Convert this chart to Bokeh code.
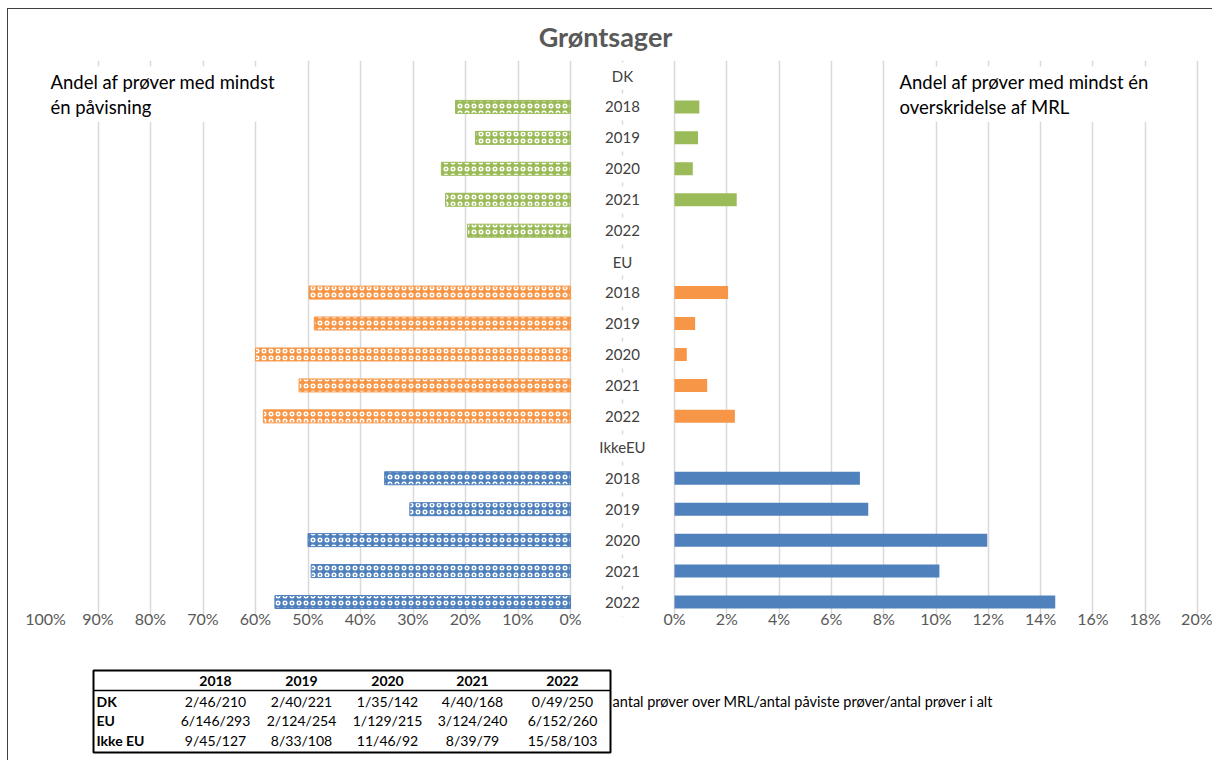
from bokeh.plotting import figure
from bokeh.layouts import column, row
from bokeh.models import (Range1d, FactorRange, FixedTicker, PrintfTickFormatter,
                          ColumnDataSource, Label, Span)
from bokeh.core.properties import value
from bokeh.embed import file_html
from bokeh.resources import INLINE

# ---------------- data ----------------
title_text = "Grøntsager"
left_note = "Andel af prøver med mindst\nén påvisning"
right_note = "Andel af prøver med mindst én\noverskridelse af MRL"

groups = ["DK", "EU", "IkkeEU"]
years = ["2018", "2019", "2020", "2021", "2022"]

# share of samples with at least one detection (%)
detect_dk = [21.9, 18.1, 24.6, 23.8, 19.6]
detect_eu = [49.8, 48.8, 60.0, 51.7, 58.5]
detect_ikke = [35.4, 30.6, 50.0, 49.4, 56.3]

# share of samples with at least one MRL exceedance (%)
mrl_dk = [0.95, 0.90, 0.70, 2.38, 0.0]
mrl_eu = [2.05, 0.79, 0.47, 1.25, 2.31]
mrl_ikke = [7.09, 7.41, 11.96, 10.13, 14.56]

group_colors = ["#9BBB59", "#F79646", "#4F81BD"]

left_ticks = [0, 10, 20, 30, 40, 50, 60, 70, 80, 90, 100]
right_ticks = [0, 2, 4, 6, 8, 10, 12, 14, 16, 18, 20]

table_header = ["2018", "2019", "2020", "2021", "2022"]
table_rows = ["DK", "EU", "Ikke EU"]
table_dk = ["2/46/210", "2/40/221", "1/35/142", "4/40/168", "0/49/250"]
table_eu = ["6/146/293", "2/124/254", "1/129/215", "3/124/240", "6/152/260"]
table_ikke = ["9/45/127", "8/33/108", "11/46/92", "8/39/79", "15/58/103"]
table_note = "antal prøver over MRL/antal påviste prøver/antal prøver i alt"

# ---------------- styling / geometry ----------------
FONT = "Lato"
GRID = "#d9d9d9"
OX, OY = 8, 9            # content origin on the page (after margin + border)
W_TOTAL, H_TOTAL = 1204, 751
TOP_H = 51
MID_H = 579
BOT_H = H_TOTAL - TOP_H - MID_H
SPLIT = 597              # page x where left and right panels meet
FRAME_BOTTOM_PAD = 22

L_FRAME_X0 = 45
L_ZERO, L_PX = 570, 5.25       # 0% position, px per %
R_ZERO, R_PX = 674, 26.15
R_FRAME_X1 = 1201
LABEL_CX = 622

# ---------------- rows ----------------
row_ids, row_labels = [], []
for g in groups:
    row_ids.append(g)
    row_labels.append(g)
    for y in years:
        row_ids.append(g + " " + y)
        row_labels.append(y)
n_rows = len(row_ids)

bar_rows, bar_detect, bar_mrl, bar_color = [], [], [], []
for g, det, mrl, c in zip(groups, [detect_dk, detect_eu, detect_ikke],
                          [mrl_dk, mrl_eu, mrl_ikke], group_colors):
    for y, d, m in zip(years, det, mrl):
        bar_rows.append(g + " " + y)
        bar_detect.append(d)
        bar_mrl.append(m)
        bar_color.append(c)

src = ColumnDataSource(dict(row=bar_rows, detect=bar_detect, mrl=bar_mrl, color=bar_color))
lab_src = ColumnDataSource(dict(row=row_ids, label=row_labels,
                                x=[(LABEL_CX - R_ZERO) / R_PX] * n_rows))

frame_h = MID_H - FRAME_BOTTOM_PAD
frame_top_page = OY + TOP_H


def synth_y(page_y):
    return n_rows - (page_y - frame_top_page) / frame_h * n_rows


def style_xaxis(p, ticks):
    p.xaxis.ticker = FixedTicker(ticks=ticks)
    p.xaxis.formatter = PrintfTickFormatter(format="%d%%")
    p.xaxis.axis_line_color = None
    p.xaxis.major_tick_line_color = None
    p.xaxis.minor_tick_line_color = None
    p.xaxis.major_tick_out = 0
    p.xaxis.major_tick_in = 0
    p.xaxis.minor_tick_out = 0
    p.xaxis.major_label_text_font = FONT
    p.xaxis.major_label_text_font_size = "16px"
    p.xaxis.major_label_text_color = "#595959"
    p.xaxis.major_label_standoff = -9
    p.xgrid.ticker = FixedTicker(ticks=ticks)
    p.xgrid.grid_line_color = GRID
    p.xgrid.grid_line_width = 1.5
    p.ygrid.visible = False


# ---------------- left panel ----------------
l_w = SPLIT - OX
l_range = Range1d((L_ZERO - L_FRAME_X0) / L_PX, -(SPLIT - L_ZERO) / L_PX)
left = figure(width=l_w, height=MID_H, x_range=l_range,
              y_range=FactorRange(factors=row_ids[::-1]),
              output_backend="svg", toolbar_location=None, y_axis_location=None,
              min_border_left=L_FRAME_X0 - OX, min_border_right=0, min_border_top=0,
              min_border_bottom=FRAME_BOTTOM_PAD, outline_line_color=None)
style_xaxis(left, left_ticks)
left.hbar(y="row", left="detect", right=0, height=0.42, source=src,
          fill_color="color", line_color="color", line_width=1,
          hatch_pattern="ring", hatch_color="white", hatch_scale=7, hatch_weight=1.5)
left.add_layout(Label(x=(L_ZERO - 46) / L_PX, y=synth_y(66), text=left_note,
                      text_align="left", text_baseline="top", text_font=FONT,
                      text_font_size="18.5px", text_color="#000000", text_line_height=1.15,
                      background_fill_color="white", padding=4))

# ---------------- right panel ----------------
r_w = OX + W_TOTAL - SPLIT
right = figure(width=r_w, height=MID_H,
               x_range=Range1d((SPLIT - R_ZERO) / R_PX, (R_FRAME_X1 - R_ZERO) / R_PX),
               y_range=left.y_range,
               output_backend="svg", toolbar_location=None, y_axis_location=None,
               min_border_left=0, min_border_right=OX + W_TOTAL - R_FRAME_X1,
               min_border_top=0, min_border_bottom=FRAME_BOTTOM_PAD,
               outline_line_color=None)
style_xaxis(right, right_ticks)
right.add_layout(Span(location=(LABEL_CX - R_ZERO) / R_PX, dimension="height",
                      line_color=GRID, line_width=1.5, line_dash="4 27", line_dash_offset=2))
right.hbar(y="row", left=0, right="mrl", height=0.42, source=src,
           fill_color="color", line_color=None)
right.text(x="x", y="row", text="label", source=lab_src, text_align="center",
           text_baseline="middle", text_font=value(FONT), text_font_size="15px",
           text_color="#404040")
right.add_layout(Label(x=(895 - R_ZERO) / R_PX, y=synth_y(66), text=right_note,
                       text_align="left", text_baseline="top", text_font=FONT,
                       text_font_size="18.5px", text_color="#000000", text_line_height=1.15,
                       background_fill_color="white", padding=4))

# ---------------- title strip ----------------
top = figure(width=W_TOTAL, height=TOP_H, x_range=Range1d(OX, OX + W_TOTAL),
             y_range=Range1d(OY + TOP_H, OY), output_backend="svg", toolbar_location=None,
             x_axis_location=None, y_axis_location=None, min_border=0,
             outline_line_color=None)
top.grid.visible = False
top.add_layout(Label(x=605, y=36, text=title_text, text_align="center",
                     text_baseline="middle", text_font=FONT, text_font_size="27px",
                     text_font_style="bold", text_color="#595959"))

# ---------------- table strip ----------------
b_top = OY + TOP_H + MID_H
bottom = figure(width=W_TOTAL, height=BOT_H, x_range=Range1d(OX, OX + W_TOTAL),
                y_range=Range1d(OY + H_TOTAL, b_top), output_backend="svg",
                toolbar_location=None, x_axis_location=None, y_axis_location=None,
                min_border=0, outline_line_color=None)
bottom.grid.visible = False

tbl_x0, tbl_x1, tbl_y0, tbl_y1 = 93, 610, 670, 752
col_cx = [215, 301, 387, 472, 562]
header_y = 680
row_y = [701, 720, 740]
bottom.quad(left=[tbl_x0], right=[tbl_x1], top=[tbl_y0], bottom=[tbl_y1],
            fill_color=None, line_color="#000000", line_width=2)
bottom.segment(x0=[tbl_x0], x1=[tbl_x1], y0=[690], y1=[690], line_color="#000000",
               line_width=1.5)
bottom.text(x=col_cx, y=[header_y] * 5, text=table_header, text_align="center",
            text_baseline="middle", text_font=value(FONT), text_font_size="14px",
            text_font_style="bold", text_color="#000000")
bottom.text(x=[tbl_x0 + 3] * 3, y=row_y, text=table_rows, text_align="left",
            text_baseline="middle", text_font=value(FONT), text_font_size="14px",
            text_font_style="bold", text_color="#000000")
cells_x, cells_y, cells_t = [], [], []
for ry, vals in zip(row_y, [table_dk, table_eu, table_ikke]):
    for cx, v in zip(col_cx, vals):
        cells_x.append(cx)
        cells_y.append(ry)
        cells_t.append(v)
bottom.text(x=cells_x, y=cells_y, text=cells_t, text_align="center",
            text_baseline="middle", text_font=value(FONT), text_font_size="14px",
            text_color="#000000")
bottom.text(x=[612], y=[701], text=[table_note], text_align="left",
            text_baseline="middle", text_font=value(FONT), text_font_size="14.5px",
            text_color="#000000")

layout = column(top, row(left, right), bottom,
                styles={"margin-left": "7px", "margin-top": "8px",
                        "border-left": "1px solid #404040",
                        "border-top": "1px solid #404040"})

open("out.html", "w").write(file_html(layout, INLINE))
